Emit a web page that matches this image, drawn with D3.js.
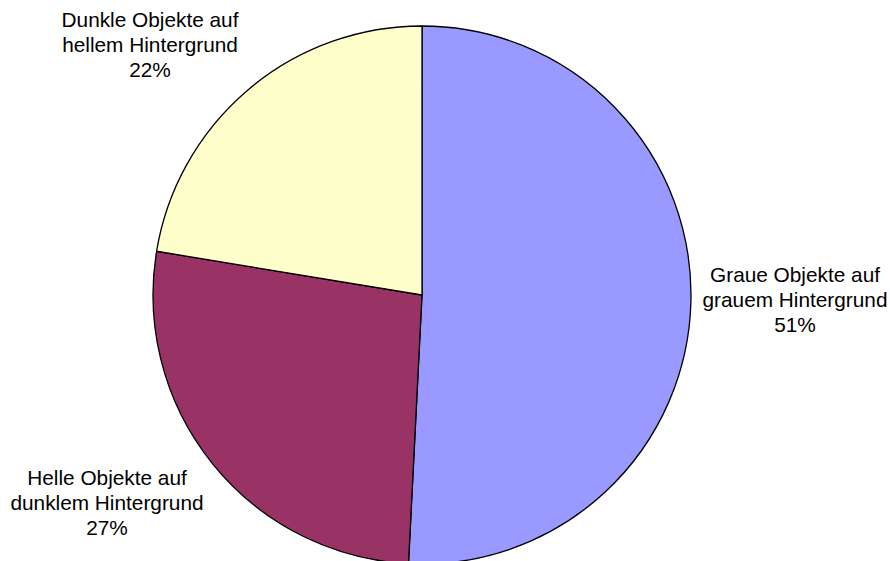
<!DOCTYPE html>
<html>
<head>
<meta charset="utf-8">
<script src="https://cdn.jsdelivr.net/npm/d3@7/dist/d3.min.js"></script>
<style>
  html, body { margin: 0; padding: 0; background: #fff; }
  svg { display: block; }
</style>
</head>
<body>
<svg id="chart" width="890" height="561"></svg>
<script>
// Categories, clockwise from 12 o'clock
const categories = [
  ["Graue Objekte auf", "grauem Hintergrund"],
  ["Helle Objekte auf", "dunklem Hintergrund"],
  ["Dunkle Objekte auf", "hellem Hintergrund"]
];
// Shares in percent
const values = [50.8, 26.8, 22.4];
const colors = ["#9999FF", "#993366", "#FFFFCC"];

const width = 890, height = 561;
const cx = 422, cy = 295, r = 269;

const svg = d3.select("#chart");
const g = svg.append("g").attr("transform", `translate(${cx},${cy})`);

const pie = d3.pie().sort(null).value(d => d)
  .startAngle(0).endAngle(2 * Math.PI);
const arcs = pie(values);
const arc = d3.arc().innerRadius(0).outerRadius(r);

g.selectAll("path.slice")
  .data(arcs)
  .join("path")
  .attr("class", "slice")
  .attr("d", arc)
  .attr("fill", (d, i) => colors[i])
  .attr("stroke", "#000")
  .attr("stroke-width", 1.3)
  .attr("stroke-linejoin", "round");

// Label block offsets (centre of first baseline) relative to the pie centre
const labelOffset = [
  { dx: 373, dy: -13 },
  { dx: -315, dy: 190 },
  { dx: -272, dy: -268 }
];
const lineH = 25;
const fmt = v => Math.round(v) + "%";

const labels = g.selectAll("text.lbl")
  .data(arcs)
  .join("text")
  .attr("class", "lbl")
  .attr("text-anchor", "middle")
  .attr("font-family", "Liberation Sans, Arial, sans-serif")
  .attr("font-size", 20.8)
  .attr("fill", "#000")
  .attr("transform", (d, i) => `translate(${labelOffset[i].dx},${labelOffset[i].dy})`);

labels.each(function (d, i) {
  const t = d3.select(this);
  const lines = [...categories[i], fmt(d.data)];
  lines.forEach((s, k) => {
    t.append("tspan").attr("x", 0).attr("y", k * lineH).text(s);
  });
});
</script>
</body>
</html>
